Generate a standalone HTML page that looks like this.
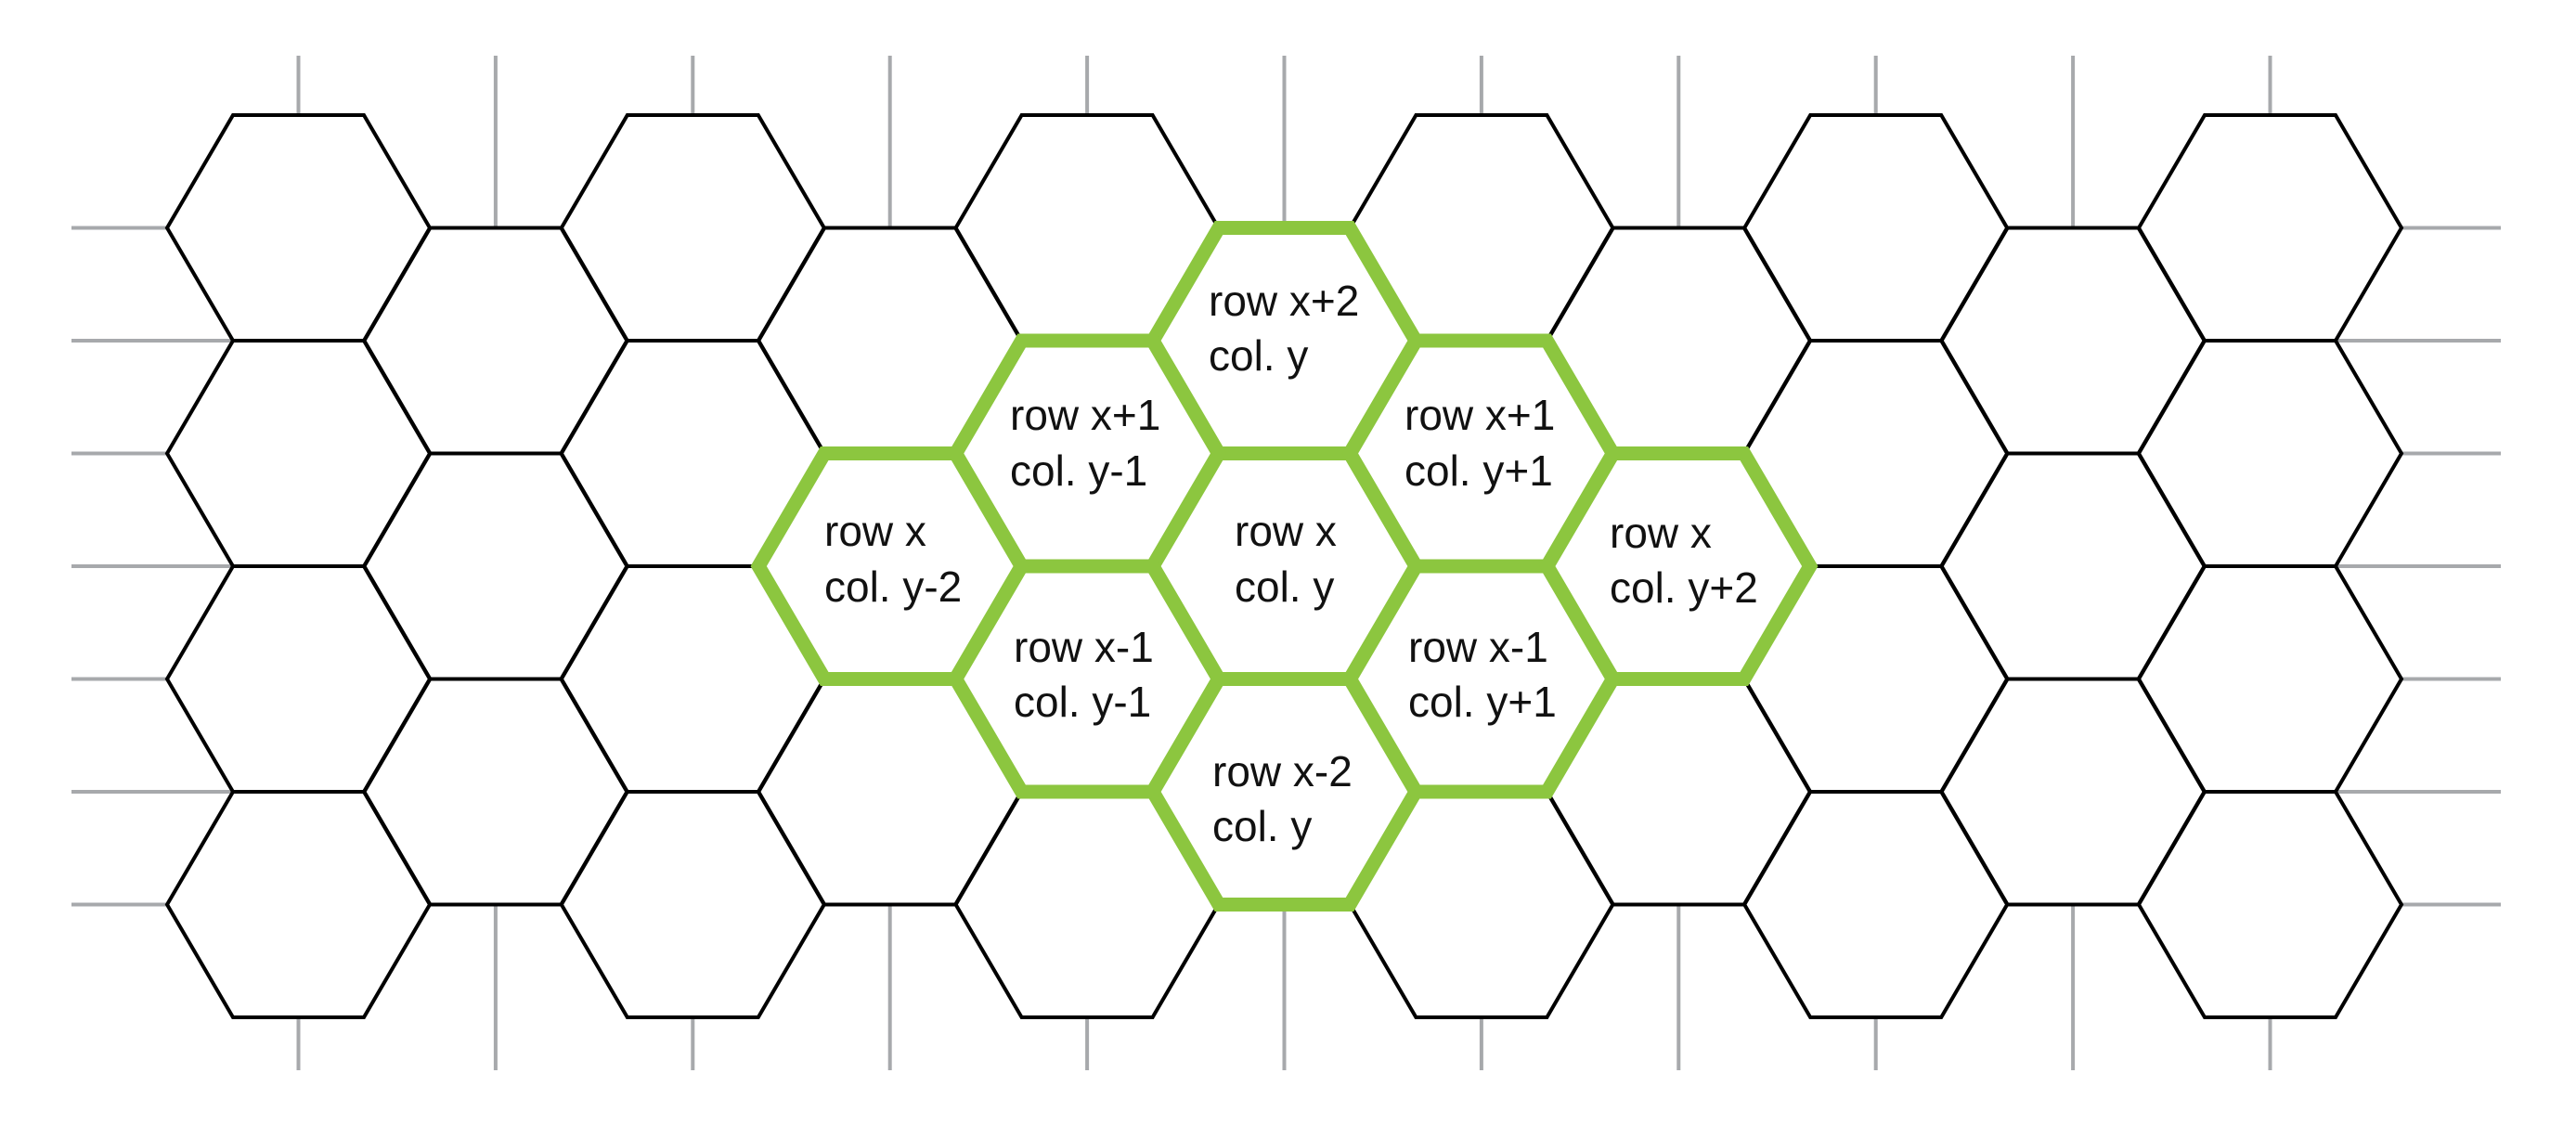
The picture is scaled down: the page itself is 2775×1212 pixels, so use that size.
<!DOCTYPE html>
<html><head><meta charset="utf-8"><style>
html,body{margin:0;padding:0;background:#fff}
svg{display:block}
text{font-family:"Liberation Sans",sans-serif;font-size:46px;fill:#111}
</style></head><body>
<svg width="2775" height="1212" viewBox="0 0 2775 1212" xmlns="http://www.w3.org/2000/svg">
<defs>
<polygon id="h" points="71,0 212,0 283,121.5 212,243 71,243 0,121.5"/>
</defs>
<g stroke="#a7a9ac" stroke-width="4">
<line x1="77" y1="245.5" x2="2694" y2="245.5"/>
<line x1="77" y1="367" x2="2694" y2="367"/>
<line x1="77" y1="488.5" x2="2694" y2="488.5"/>
<line x1="77" y1="610" x2="2694" y2="610"/>
<line x1="77" y1="731.5" x2="2694" y2="731.5"/>
<line x1="77" y1="853" x2="2694" y2="853"/>
<line x1="77" y1="974.5" x2="2694" y2="974.5"/>
<line x1="321.5" y1="60" x2="321.5" y2="1153"/>
<line x1="533.9" y1="60" x2="533.9" y2="1153"/>
<line x1="746.3" y1="60" x2="746.3" y2="1153"/>
<line x1="958.7" y1="60" x2="958.7" y2="1153"/>
<line x1="1171.1" y1="60" x2="1171.1" y2="1153"/>
<line x1="1383.5" y1="60" x2="1383.5" y2="1153"/>
<line x1="1595.9" y1="60" x2="1595.9" y2="1153"/>
<line x1="1808.3" y1="60" x2="1808.3" y2="1153"/>
<line x1="2020.7" y1="60" x2="2020.7" y2="1153"/>
<line x1="2233.1" y1="60" x2="2233.1" y2="1153"/>
<line x1="2445.5" y1="60" x2="2445.5" y2="1153"/>
</g>
<g fill="#fff" stroke="#000" stroke-width="4" stroke-linejoin="miter">
<use href="#h" x="180" y="124"/><use href="#h" x="180" y="367"/><use href="#h" x="180" y="610"/><use href="#h" x="180" y="853"/>
<use href="#h" x="604.8" y="124"/><use href="#h" x="604.8" y="367"/><use href="#h" x="604.8" y="610"/><use href="#h" x="604.8" y="853"/>
<use href="#h" x="1029.6" y="124"/><use href="#h" x="1029.6" y="367"/><use href="#h" x="1029.6" y="610"/><use href="#h" x="1029.6" y="853"/>
<use href="#h" x="1454.4" y="124"/><use href="#h" x="1454.4" y="367"/><use href="#h" x="1454.4" y="610"/><use href="#h" x="1454.4" y="853"/>
<use href="#h" x="1879.2" y="124"/><use href="#h" x="1879.2" y="367"/><use href="#h" x="1879.2" y="610"/><use href="#h" x="1879.2" y="853"/>
<use href="#h" x="2304" y="124"/><use href="#h" x="2304" y="367"/><use href="#h" x="2304" y="610"/><use href="#h" x="2304" y="853"/>
<use href="#h" x="392.4" y="245.5"/><use href="#h" x="392.4" y="488.5"/><use href="#h" x="392.4" y="731.5"/>
<use href="#h" x="817.2" y="245.5"/><use href="#h" x="817.2" y="488.5"/><use href="#h" x="817.2" y="731.5"/>
<use href="#h" x="1242" y="245.5"/><use href="#h" x="1242" y="488.5"/><use href="#h" x="1242" y="731.5"/>
<use href="#h" x="1666.8" y="245.5"/><use href="#h" x="1666.8" y="488.5"/><use href="#h" x="1666.8" y="731.5"/>
<use href="#h" x="2091.6" y="245.5"/><use href="#h" x="2091.6" y="488.5"/><use href="#h" x="2091.6" y="731.5"/>
</g>
<g fill="none" stroke="#8cc63f" stroke-width="15" stroke-linejoin="miter">
<use href="#h" x="1242" y="245.5"/><use href="#h" x="1242" y="488.5"/><use href="#h" x="1242" y="731.5"/>
<use href="#h" x="1029.6" y="367"/><use href="#h" x="1029.6" y="610"/>
<use href="#h" x="1454.4" y="367"/><use href="#h" x="1454.4" y="610"/>
<use href="#h" x="817.2" y="488.5"/><use href="#h" x="1666.8" y="488.5"/>
</g>
<text x="1302" y="340">row x+2</text><text x="1302" y="399">col. y</text>
<text x="1088" y="463">row x+1</text><text x="1088" y="523">col. y-1</text>
<text x="1513" y="463">row x+1</text><text x="1513" y="523">col. y+1</text>
<text x="888" y="588">row x</text><text x="888" y="648">col. y-2</text>
<text x="1330" y="588">row x</text><text x="1330" y="648">col. y</text>
<text x="1734" y="590">row x</text><text x="1734" y="649">col. y+2</text>
<text x="1092" y="713">row x-1</text><text x="1092" y="772">col. y-1</text>
<text x="1517" y="713">row x-1</text><text x="1517" y="772">col. y+1</text>
<text x="1306" y="847">row x-2</text><text x="1306" y="906">col. y</text>
</svg>
</body></html>
